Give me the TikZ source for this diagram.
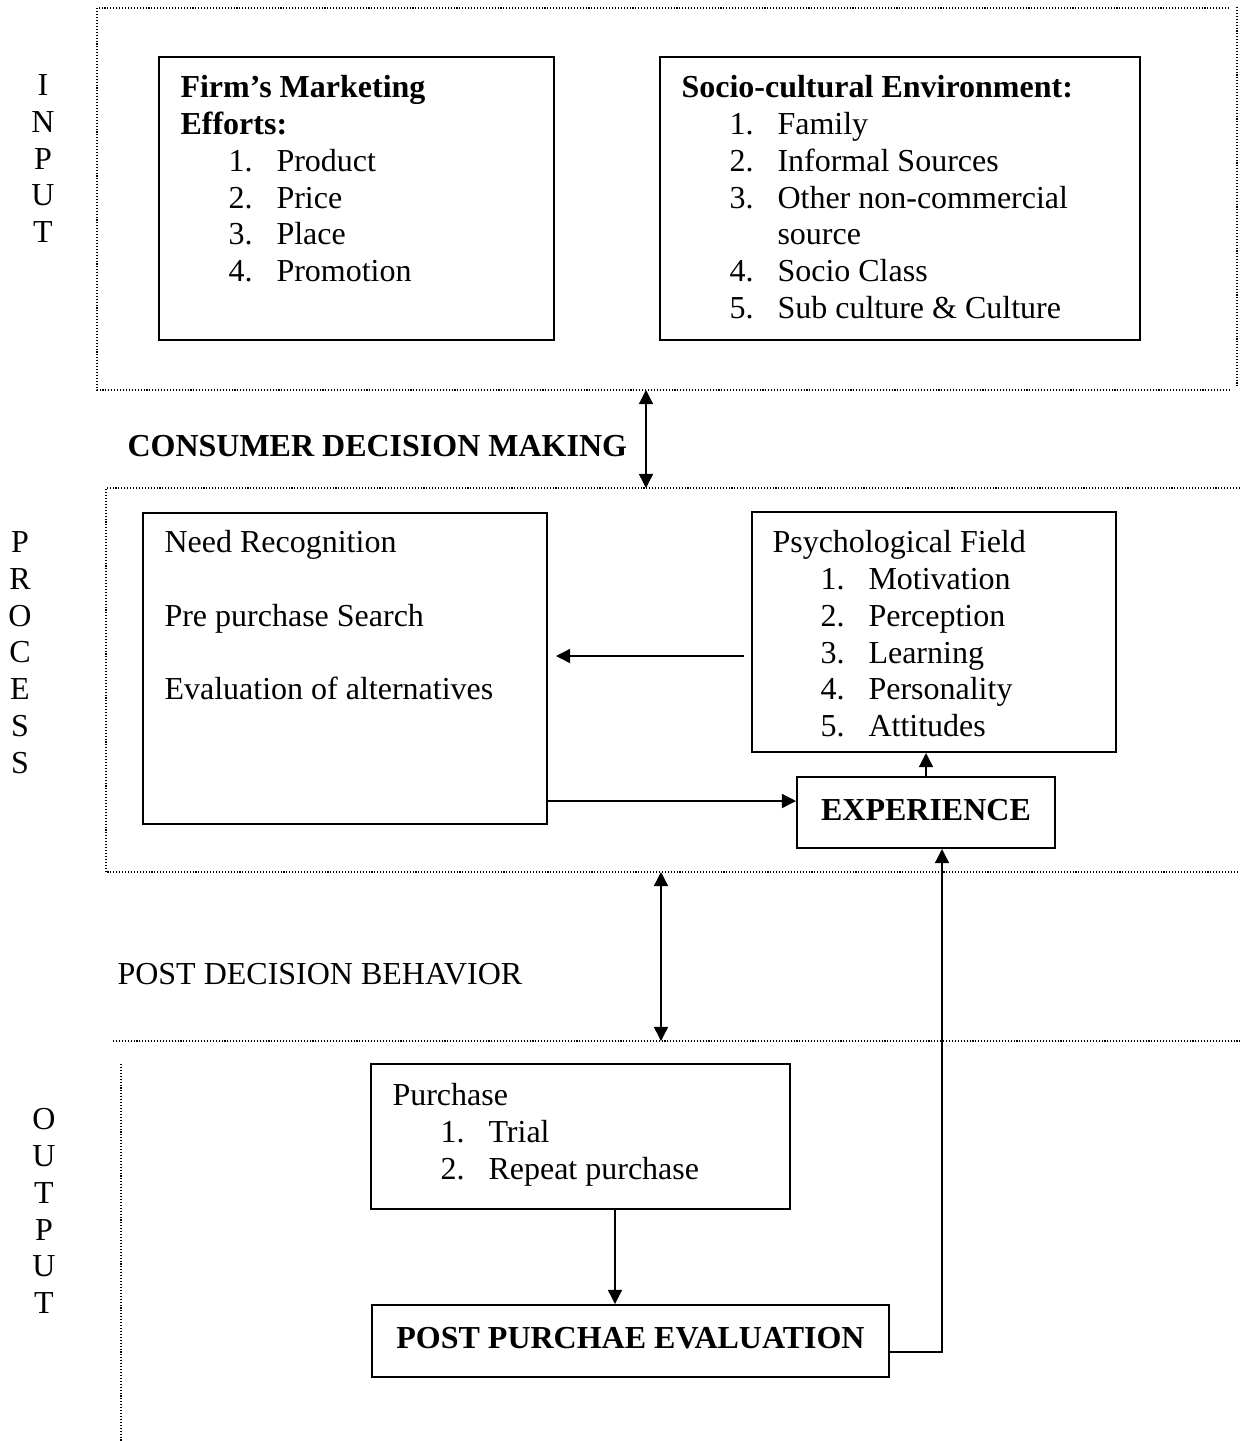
\documentclass[tikz,border=0pt]{standalone}
\usepackage{fontspec}
\setmainfont{Liberation Serif}
\usetikzlibrary{arrows.meta}
\usetikzlibrary{fit}
\tikzset{box/.style = {draw, line width = 0.75pt, inner sep = 0}}
\tikzset{txt/.style = {anchor = north west, inner sep = 0, align = left}}
\tikzset{letters/.style = {anchor = north, inner sep = 0, align = center}}
\tikzset{dots/.style = {line width = 0.4pt, dash pattern = on 0.4pt off 0.7pt}}
\tikzset{onearrow/.style = {line width = 0.5pt, -{Triangle[length = 5.3pt, width = 5.3pt]}}}
\tikzset{twoarrow/.style = {line width = 0.5pt, {Triangle[length = 5.3pt, width = 5.3pt]}-{Triangle[length = 5.3pt, width = 5.3pt]}}}
\newcommand{\itm}[2]{\hspace*{18pt}\makebox[18pt][l]{#1.}#2}

\begin{document}
\begin{tikzpicture}[x = 0.375pt, y = -0.375pt, font = \fontsize{12pt}{13.8pt}\selectfont]
    \path [use as bounding box] (0, 0) rectangle (1240, 1441);

    % input
    \draw [dots] (1229, 8) -- (97, 8) -- (97, 390) -- (1229, 390);
    \draw [dots] (1237, 7) -- (1237, 388);
    \node [letters] (inputlbl) at (43, 74) {I\\N\\P\\U\\T};

    \node [box, fit = {(159, 57) (554, 340)}] (firm) {};
    \node [txt] (firmtxt) at (180, 75) {\textbf{Firm’s Marketing}\\
                                       \textbf{Efforts:}\\
                                       \itm{1}{Product}\\
                                       \itm{2}{Price}\\
                                       \itm{3}{Place}\\
                                       \itm{4}{Promotion}};

    \node [box, fit = {(660, 57) (1140, 340)}] (socio) {};
    \node [txt] (sociotxt) at (681, 75) {\textbf{Socio-cultural Environment:}\\
                                        \itm{1}{Family}\\
                                        \itm{2}{Informal Sources}\\
                                        \itm{3}{Other non-commercial}\\
                                        \hspace*{36pt}source\\
                                        \itm{4}{Socio Class}\\
                                        \itm{5}{Sub culture \& Culture}};

    \node [anchor = base west, inner sep = 0] (cdm) at (127, 456) {\textbf{CONSUMER DECISION MAKING}};
    \coordinate (inbot) at (646, 390);
    \coordinate (proctop) at (646, 488);
    \draw [twoarrow] (inbot) -- (proctop);

    % process
    \draw [dots] (1240, 488) -- (106, 488) -- (106, 872) -- (1240, 872);
    \node [letters] (processlbl) at (20, 531) {P\\R\\O\\C\\E\\S\\S};

    \node [box, fit = {(143, 513) (547, 824)}] (need) {};
    \node [txt] (needtxt) at (164, 530) {Need Recognition\\[13.8pt]
                                        Pre purchase Search\\[13.8pt]
                                        Evaluation of alternatives};

    \node [box, fit = {(752, 512) (1116, 752)}] (psych) {};
    \node [txt] (psychtxt) at (772, 530) {Psychological Field\\
                                         \itm{1}{Motivation}\\
                                         \itm{2}{Perception}\\
                                         \itm{3}{Learning}\\
                                         \itm{4}{Personality}\\
                                         \itm{5}{Attitudes}};

    \node [box, fit = {(797, 777) (1055, 848)},
           label = {[yshift = 1pt]center:\textbf{EXPERIENCE}}] (exp) {};

    \coordinate (lvl) at (0, 656);
    \coordinate (lvx) at (0, 801);
    \draw [onearrow, shorten <= 2.6pt, shorten >= 3pt] (psych.west |- lvl) -- (need.east |- lvl);
    \draw [onearrow] (need.east |- lvx) -- (exp.west |- lvx);
    \draw [onearrow] (exp.north) -- (exp.north |- psych.south);

    % post decision
    \node [anchor = base west, inner sep = 0] (pdb) at (117, 984) {POST DECISION BEHAVIOR};
    \coordinate (procbot) at (661, 872);
    \coordinate (outtop) at (661, 1041);
    \draw [twoarrow] (procbot) -- (outtop);
    \draw [dots] (113, 1041) -- (1240, 1041);

    % output
    \draw [dots] (121, 1064) -- (121, 1441);
    \node [letters] (outputlbl) at (44, 1108) {O\\U\\T\\P\\U\\T};

    \node [box, fit = {(371, 1064) (790, 1209)}] (purchase) {};
    \node [txt] (purchasetxt) at (392, 1083) {Purchase\\
                                             \itm{1}{Trial}\\
                                             \itm{2}{Repeat purchase}};

    \node [box, fit = {(372, 1305) (889, 1377)},
           label = {[yshift = 1pt]center:\textbf{POST PURCHAE EVALUATION}}] (ppe) {};

    \coordinate (px) at (615, 0);
    \coordinate (rx) at (942, 1352);
    \draw [onearrow] (purchase.south -| px) -- (ppe.north -| px);
    \draw [onearrow] (ppe.east |- rx) -- (rx) -- (rx |- exp.south);
  \end{tikzpicture}
\end{document}
